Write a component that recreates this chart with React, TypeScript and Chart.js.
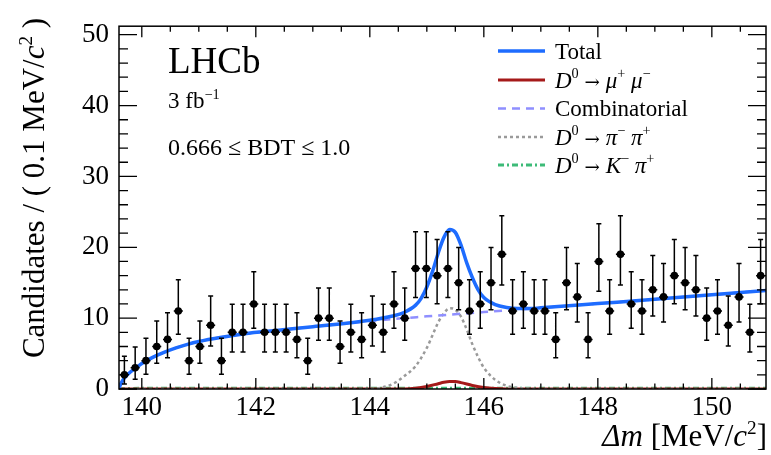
import React, { useEffect, useRef } from "react";
import { Chart, registerables } from "chart.js";

Chart.register(...registerables);

// ---- histogram binning and observed candidate counts ----
const binLow = 139.6;
const binHigh = 150.95;
const counts = [
  2, 3, 4, 6, 7, 11, 4, 6, 9, 4, 8, 8, 12, 8, 8, 8, 7, 4, 10, 10,
  6, 8, 7, 9, 8, 12, 10, 17, 17, 16, 17, 15, 11, 12, 15, 19, 11, 12, 11, 11,
  7, 15, 13, 7, 18, 11, 19, 12, 11, 14, 13, 16, 15, 14, 10, 11, 9, 13, 8, 16,
];
const binWidth = (binHigh - binLow) / counts.length;

// 68.3% central Poisson intervals (Garwood), indexed by observed count
const poissonDown = [0, 0.827, 1.292, 1.633, 1.914, 2.159, 2.38, 2.581, 2.768, 2.943, 3.108,
  3.266, 3.416, 3.559, 3.697, 3.83, 3.958, 4.083, 4.205, 4.323, 4.439];
const poissonUp = [1.841, 2.299, 2.638, 2.918, 3.162, 3.382, 3.583, 3.77, 3.944, 4.11, 4.266,
  4.416, 4.559, 4.697, 4.83, 4.958, 5.083, 5.205, 5.323, 5.439, 5.552];

// ---- fit model curves ----
const totalX = [139.6, 139.65, 139.7, 139.8, 139.9, 140.0, 140.2, 140.4, 140.6, 140.8, 141.0, 141.4,
  141.8, 142.4, 143.0, 144.0, 144.4, 144.6, 144.8, 144.9, 145.0, 145.1, 145.2, 145.3, 145.4, 145.5,
  145.6, 145.7, 145.8, 145.9, 146.0, 146.2, 146.4, 146.6, 146.8, 147.0, 148.0, 149.0, 150.0, 151.0];
const totalY = [0.2, 1.0, 1.6, 2.4, 3.0, 3.6, 4.5, 5.2, 5.8, 6.3, 6.7, 7.3,
  7.8, 8.3, 8.8, 9.7, 10.3, 10.8, 11.8, 12.8, 14.4, 16.6, 19.2, 21.4, 22.5, 22.1,
  20.3, 17.8, 15.7, 14.0, 12.9, 11.9, 11.5, 11.35, 11.35, 11.45, 12.05, 12.65, 13.3, 13.95];

const combX = [139.6, 139.65, 139.7, 139.8, 139.9, 140.0, 140.2, 140.4, 140.6, 140.8, 141.0, 141.4,
  141.8, 142.4, 143.0, 144.0, 145.0, 146.0, 147.0, 148.0, 149.0, 150.0, 151.0];
const combY = [0.2, 1.0, 1.6, 2.4, 3.0, 3.6, 4.5, 5.2, 5.8, 6.3, 6.7, 7.3,
  7.8, 8.3, 8.8, 9.6, 10.25, 10.85, 11.45, 12.05, 12.65, 13.3, 13.95];

const pipiX = [139.6, 144.0, 144.2, 144.4, 144.6, 144.8, 145.0, 145.1, 145.2, 145.3, 145.4, 145.5,
  145.6, 145.7, 145.8, 145.9, 146.0, 146.2, 146.4, 146.6, 146.8, 147.0, 151.0];
const pipiY = [0, 0, 0.2, 0.7, 1.8, 3.2, 5.8, 7.6, 9.4, 10.7, 11.4, 11.2,
  10.2, 8.4, 6.3, 4.5, 3.0, 1.3, 0.45, 0.15, 0.05, 0, 0];

const mumuX = [139.6, 144.6, 144.8, 145.0, 145.2, 145.3, 145.4, 145.5, 145.6, 145.8, 146.0, 146.2, 146.4, 151.0];
const mumuY = [0, 0, 0.1, 0.35, 0.75, 0.95, 1.05, 1.05, 0.9, 0.5, 0.2, 0.06, 0, 0];

const kpiX = [139.6, 140.0, 145.0, 151.0];
const kpiY = [0.02, 0.1, 0.1, 0.1];

// ---- axes ----
const xMajorTicks = [140, 142, 144, 146, 148, 150];
const yMajorTicks = [0, 10, 20, 30, 40, 50];
const xMinorStep = 0.5;
const yMinorStep = 2;
const yMax = 51.2;

// ---- text ----
type Seg = { t: string; it?: boolean; sup?: boolean; arrow?: boolean };

const yTitle: Seg[] = [{ t: "Candidates / ( 0.1 MeV/" }, { t: "c", it: true }, { t: "2", sup: true }, { t: " )" }];
const xTitle: Seg[] = [{ t: "Δm", it: true }, { t: " [MeV/" }, { t: "c", it: true }, { t: "2", sup: true }, { t: "]" }];
const experimentLabel: Seg[] = [{ t: "LHCb" }];
const lumiLabel: Seg[] = [{ t: "3 fb" }, { t: "−1", sup: true }];
const bdtLabel: Seg[] = [{ t: "0.666 ≤ BDT ≤ 1.0" }];

const legendLabels: Seg[][] = [
  [{ t: "Total" }],
  [{ t: "D", it: true }, { t: "0", sup: true }, { t: " " }, { t: "→", arrow: true }, { t: " " }, { t: "μ", it: true }, { t: "+", sup: true }, { t: " " }, { t: "μ", it: true }, { t: "−", sup: true }],
  [{ t: "Combinatorial" }],
  [{ t: "D", it: true }, { t: "0", sup: true }, { t: " " }, { t: "→", arrow: true }, { t: " " }, { t: "π", it: true }, { t: "−", sup: true }, { t: " " }, { t: "π", it: true }, { t: "+", sup: true }],
  [{ t: "D", it: true }, { t: "0", sup: true }, { t: " " }, { t: "→", arrow: true }, { t: " " }, { t: "K", it: true }, { t: "−", sup: true }, { t: " " }, { t: "π", it: true }, { t: "+", sup: true }],
];

const colTotal = "#1e6cff";
const colMuMu = "#a51a1a";
const colComb = "#8f8fff";
const colPiPi = "#9a9a9a";
const colKPi = "#3dbb78";

const legendStyles = [
  { color: colTotal, width: 3.5, dash: [] as number[] },
  { color: colMuMu, width: 3, dash: [] as number[] },
  { color: colComb, width: 2.5, dash: [8, 6] },
  { color: colPiPi, width: 2.5, dash: [3, 3] },
  { color: colKPi, width: 3, dash: [6, 3, 2, 3] },
];

const SERIF = '"Liberation Serif", "DejaVu Serif", serif';
const ARROW_FONT = '"DejaVu Serif", serif';

function fontFor(size: number, s: Seg) {
  if (s.arrow) return `${size * 0.8}px ${ARROW_FONT}`;
  return `${s.it ? "italic " : ""}${s.sup ? size * 0.62 : size}px ${SERIF}`;
}

function richWidth(ctx: CanvasRenderingContext2D, segs: Seg[], size: number) {
  let w = 0;
  for (const s of segs) {
    ctx.font = fontFor(size, s);
    w += ctx.measureText(s.t).width;
  }
  return w;
}

function drawRich(ctx: CanvasRenderingContext2D, segs: Seg[], x: number, y: number, size: number, align: "left" | "right" | "center") {
  const w = richWidth(ctx, segs, size);
  let cx = align === "left" ? x : align === "right" ? x - w : x - w / 2;
  ctx.textAlign = "left";
  ctx.textBaseline = "alphabetic";
  for (const s of segs) {
    ctx.font = fontFor(size, s);
    ctx.fillText(s.t, cx, s.sup ? y - size * 0.4 : y);
    cx += ctx.measureText(s.t).width;
  }
}

const pairs = (xs: number[], ys: number[]) => xs.map((x, i) => ({ x, y: ys[i] }));
const binCenter = (i: number) => binLow + (i + 0.5) * binWidth;

// error bars under the data markers
const errorBarPlugin = {
  id: "errorBars",
  beforeDatasetDraw(chart: any, args: any) {
    if (args.index !== 0) return;
    const { ctx, scales } = chart;
    const xs = scales.x, ys = scales.y;
    ctx.save();
    ctx.strokeStyle = "#000";
    ctx.lineWidth = 1.5;
    ctx.beginPath();
    counts.forEach((n, i) => {
      const c = binCenter(i);
      const px = xs.getPixelForValue(c);
      const yTop = ys.getPixelForValue(n + poissonUp[n]);
      const yBot = ys.getPixelForValue(n - poissonDown[n]);
      ctx.moveTo(px, yTop);
      ctx.lineTo(px, yBot);
      ctx.moveTo(px - 2.5, yTop);
      ctx.lineTo(px + 2.5, yTop);
      ctx.moveTo(px - 2.5, yBot);
      ctx.lineTo(px + 2.5, yBot);
      const py = ys.getPixelForValue(n);
      ctx.moveTo(xs.getPixelForValue(c - binWidth * 0.42), py);
      ctx.lineTo(xs.getPixelForValue(c + binWidth * 0.42), py);
    });
    ctx.stroke();
    ctx.restore();
  },
};

// frame with mirrored ticks, annotations, legend and axis titles
const framePlugin = {
  id: "frameAndText",
  afterDraw(chart: any) {
    const { ctx, chartArea: a, scales } = chart;
    const xs = scales.x, ys = scales.y;
    ctx.save();
    ctx.strokeStyle = "#000";
    ctx.lineWidth = 1.5;
    ctx.strokeRect(a.left, a.top, a.right - a.left, a.bottom - a.top);

    ctx.lineWidth = 1.3;
    ctx.beginPath();
    const xStart = Math.ceil(xs.min / xMinorStep) * xMinorStep;
    for (let v = xStart; v <= xs.max + 1e-9; v += xMinorStep) {
      const major = xMajorTicks.some((t) => Math.abs(t - v) < 1e-6);
      const len = major ? 11 : 5.5;
      const px = xs.getPixelForValue(v);
      ctx.moveTo(px, a.bottom);
      ctx.lineTo(px, a.bottom - len);
      ctx.moveTo(px, a.top);
      ctx.lineTo(px, a.top + len);
    }
    for (let v = 0; v <= ys.max + 1e-9; v += yMinorStep) {
      const major = yMajorTicks.some((t) => Math.abs(t - v) < 1e-6);
      const len = major ? 18 : 9;
      const py = ys.getPixelForValue(v);
      ctx.moveTo(a.left, py);
      ctx.lineTo(a.left + len, py);
      ctx.moveTo(a.right, py);
      ctx.lineTo(a.right - len, py);
    }
    ctx.stroke();

    ctx.fillStyle = "#000";
    drawRich(ctx, experimentLabel, 168, 73, 37, "left");
    drawRich(ctx, lumiLabel, 168, 108, 23, "left");
    drawRich(ctx, bdtLabel, 168, 155, 24, "left");

    const rowY = [51, 80, 108.5, 137, 165];
    legendStyles.forEach((st, i) => {
      ctx.beginPath();
      ctx.strokeStyle = st.color;
      ctx.lineWidth = st.width;
      ctx.setLineDash(st.dash);
      ctx.moveTo(498, rowY[i]);
      ctx.lineTo(545, rowY[i]);
      ctx.stroke();
      ctx.setLineDash([]);
      drawRich(ctx, legendLabels[i], 555, rowY[i] + 7.5, 23, "left");
    });

    drawRich(ctx, xTitle, 767, 446, 31, "right");
    ctx.save();
    ctx.translate(44, 188);
    ctx.rotate(-Math.PI / 2);
    drawRich(ctx, yTitle, 0, 0, 31, "center");
    ctx.restore();

    ctx.restore();
  },
};

export default function App() {
  const canvasRef = useRef<HTMLCanvasElement | null>(null);

  useEffect(() => {
    document.body.style.margin = "0";
    const canvas = canvasRef.current;
    if (!canvas) return;

    const curve = (label: string, xs: number[], ys: number[], color: string, width: number, dash: number[], order: number) => ({
      label,
      data: pairs(xs, ys),
      showLine: true,
      borderColor: color,
      borderWidth: width,
      borderDash: dash,
      pointRadius: 0,
      cubicInterpolationMode: "monotone" as const,
      fill: false,
      order,
    });

    const chart = new Chart(canvas, {
      type: "scatter",
      data: {
        datasets: [
          {
            label: "Data",
            data: counts.map((n, i) => ({ x: binCenter(i), y: n })),
            pointRadius: 3.8,
            pointBackgroundColor: "#000",
            pointBorderWidth: 0,
            showLine: false,
            order: 0,
          } as any,
          curve("Total", totalX, totalY, colTotal, 3.5, [], 1),
          curve("Combinatorial", combX, combY, colComb, 2.5, [8, 6], 2),
          curve("D0 → π− π+", pipiX, pipiY, colPiPi, 2.5, [3, 3], 3),
          curve("D0 → K− π+", kpiX, kpiY, colKPi, 3, [6, 3, 2, 3], 5),
          curve("D0 → μ+ μ−", mumuX, mumuY, colMuMu, 3, [], 4),
        ],
      },
      options: {
        responsive: false,
        animation: false,
        layout: { padding: { top: 14, right: 5, left: 0, bottom: 0 } },
        plugins: { legend: { display: false }, tooltip: { enabled: false }, title: { display: false } },
        scales: {
          x: {
            type: "linear",
            min: binLow,
            max: binHigh,
            grid: { display: false, drawTicks: false },
            border: { display: false },
            afterBuildTicks: (s: any) => {
              s.ticks = xMajorTicks.map((v) => ({ value: v }));
            },
            afterFit: (s: any) => {
              s.height = 66;
            },
            ticks: {
              color: "#000",
              padding: 3,
              maxRotation: 0,
              autoSkip: false,
              font: { family: SERIF, size: 27 },
              callback: (v: any) => String(v),
            },
          },
          y: {
            type: "linear",
            min: 0,
            max: yMax,
            grid: { display: false, drawTicks: false },
            border: { display: false },
            afterBuildTicks: (s: any) => {
              s.ticks = yMajorTicks.map((v) => ({ value: v }));
            },
            afterFit: (s: any) => {
              s.width = 119;
            },
            ticks: {
              color: "#000",
              padding: 10,
              autoSkip: false,
              font: { family: SERIF, size: 27 },
              callback: (v: any) => String(v),
            },
          },
        },
      },
      plugins: [errorBarPlugin, framePlugin],
    });

    return () => chart.destroy();
  }, []);

  return (
    <div style={{ width: 771, height: 455, background: "#fff" }}>
      <canvas ref={canvasRef} width={771} height={455} style={{ display: "block" }} />
    </div>
  );
}
